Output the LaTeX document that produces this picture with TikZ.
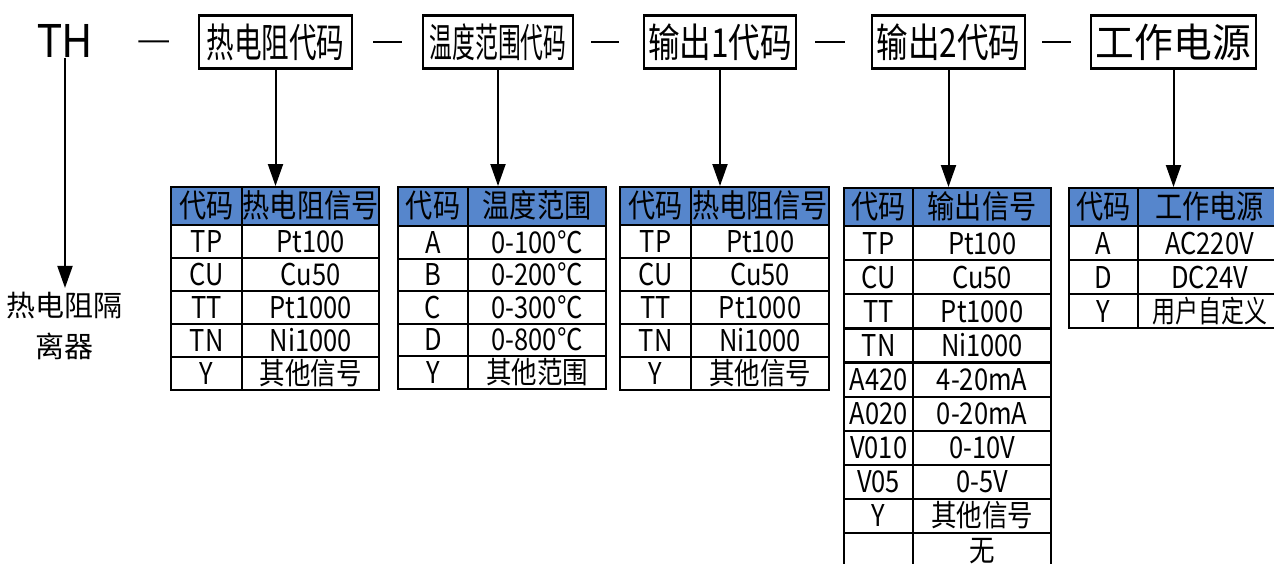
\documentclass[tikz,border=0pt]{standalone}
\usepackage{fontspec}
\usepackage{xcolor}
\usepackage{tikz}
\usetikzlibrary{arrows.meta}
\newfontfamily\cjk{Noto Sans CJK SC}
\newfontfamily\cjkn{Noto Sans CJK SC}[FakeStretch=0.85]
\newfontfamily\latin{Liberation Sans}
\definecolor{headblue}{RGB}{86,134,204}

\begin{document}
\begin{tikzpicture}[x=1pt,y=-1pt]
  \tikzstyle{every node}=[inner sep=0pt, font=\cjk]
  \tikzstyle{codebox}=[draw, line width=2.2pt, minimum height=53pt, font=\cjk\fontsize{40}{40}\selectfont]
  \tikzstyle{cell}=[draw, line width=2.2pt, anchor=north west, text height=25pt, text depth=3pt, font=\cjkn\fontsize{30}{30}\selectfont]
  \tikzstyle{head}=[cell, fill=headblue, minimum height=38pt, font=\cjkn\fontsize{32}{32}\selectfont]
  \tikzstyle{pointer}=[line width=2pt, -{Triangle[length=22pt,width=15pt]}]
  \tikzstyle{dashline}=[line width=2pt]
  \useasboundingbox (0,0) rectangle (1274,563);

  % top row
  \node[font=\latin\fontsize{48}{48}\selectfont] (th) at (65,41) {\scalebox{.85}[1]{TH}};
  \node[codebox, minimum width=153pt] (rtd) at (275.5,42) {\scalebox{.69}[1]{热电阻代码}};
  \node[codebox, minimum width=150pt] (rng) at (498,42) {\scalebox{.57}[1]{温度范围代码}};
  \node[codebox, minimum width=152pt] (out1) at (720,42) {\scalebox{.79}[1]{输出1代码}};
  \node[codebox, minimum width=153pt] (out2) at (948.5,42) {\scalebox{.79}[1]{输出2代码}};
  \node[codebox, minimum width=165pt] (pwr) at (1173.5,42) {\scalebox{.97}[1]{工作电源}};
  \draw[dashline, shorten <=46pt, shorten >=29pt] (th) -- (rtd);
  \draw[dashline, shorten <=20pt, shorten >=20pt] (rtd) -- (rng);
  \draw[dashline, shorten <=17pt, shorten >=24pt] (rng) -- (out1);
  \draw[dashline, shorten <=18pt, shorten >=26pt] (out1) -- (out2);
  \draw[dashline, shorten <=16pt, shorten >=19pt] (out2) -- (pwr);

  \node[align=center, inner sep=4pt, font=\cjk\fontsize{29}{41}\selectfont] (note) at (64.5,326) {热电阻隔\\离器};
  \draw[pointer] (th) -- (th |- note.north);

  % rtd table
  \node[head, minimum width=71pt] (rtdk) at (170,186) {代码};
  \node[head, minimum width=137pt] (rtdv) at (241,186) {热电阻信号};
  \foreach \k/\v [count=\i] in {TP/Pt100, CU/Cu50, TT/Pt1000, TN/Ni1000, Y/其他信号}{
    \node[cell, minimum width=71pt, minimum height=33pt] (rtdk\i) at (170,{191+33*\i}) {\k};
    \node[cell, minimum width=137pt, minimum height=33pt] (rtdv\i) at (241,{191+33*\i}) {\v};
  }

  % range table
  \node[head, minimum width=70pt, minimum height=39pt] (rngk) at (397,186) {代码};
  \node[head, minimum width=138pt, minimum height=39pt] (rngv) at (467,186) {温度范围};
  \foreach \k/\v [count=\i] in {A/0-100℃, B/0-200℃, C/0-300℃, D/0-800℃, Y/其他范围}{
    \node[cell, minimum width=70pt, minimum height=32.5pt] (rngk\i) at (397,{192.5+32.5*\i}) {\k};
    \node[cell, minimum width=138pt, minimum height=32.5pt] (rngv\i) at (467,{192.5+32.5*\i}) {\v};
  }

  % output 1 table
  \node[head, minimum width=71pt] (sigk) at (619,186) {代码};
  \node[head, minimum width=138pt] (sigv) at (690,186) {热电阻信号};
  \foreach \k/\v [count=\i] in {TP/Pt100, CU/Cu50, TT/Pt1000, TN/Ni1000, Y/其他信号}{
    \node[cell, minimum width=71pt, minimum height=33pt] (sigk\i) at (619,{191+33*\i}) {\k};
    \node[cell, minimum width=138pt, minimum height=33pt] (sigv\i) at (690,{191+33*\i}) {\v};
  }

  % output 2 table
  \node[head, minimum width=69pt] (outk) at (843,187) {代码};
  \node[head, minimum width=138pt] (outv) at (912,187) {输出信号};
  \foreach \k/\v [count=\i] in {TP/Pt100, CU/Cu50, TT/Pt1000, TN/Ni1000, A420/4-20mA, A020/0-20mA, V010/0-10V, V05/0-5V, Y/其他信号, {}/无}{
    \node[cell, minimum width=69pt, minimum height=34.1pt] (outk\i) at (843,{190.9+34.1*\i}) {\k};
    \node[cell, minimum width=138pt, minimum height=34.1pt] (outv\i) at (912,{190.9+34.1*\i}) {\v};
  }

  % power table
  \node[head, minimum width=69pt] (pwrk) at (1068,187) {代码};
  \node[head, minimum width=143pt] (pwrv) at (1137,187) {工作电源};
  \foreach \k/\v [count=\i] in {A/AC220V, D/DC24V, Y/\scalebox{.9}[1]{用户自定义}}{
    \node[cell, minimum width=69pt, minimum height=34pt] (pwrk\i) at (1068,{191+34*\i}) {\k};
    \node[cell, minimum width=143pt, minimum height=34pt] (pwrv\i) at (1137,{191+34*\i}) {\v};
  }

  \draw[pointer] (rtd) -- (rtd |- rtdk.north);
  \draw[pointer] (rng) -- (rng |- rngk.north);
  \draw[pointer] (out1) -- (out1 |- sigk.north);
  \draw[pointer] (out2) -- (out2 |- outk.north);
  \draw[pointer] (pwr) -- (pwr |- pwrk.north);
\end{tikzpicture}
\end{document}
